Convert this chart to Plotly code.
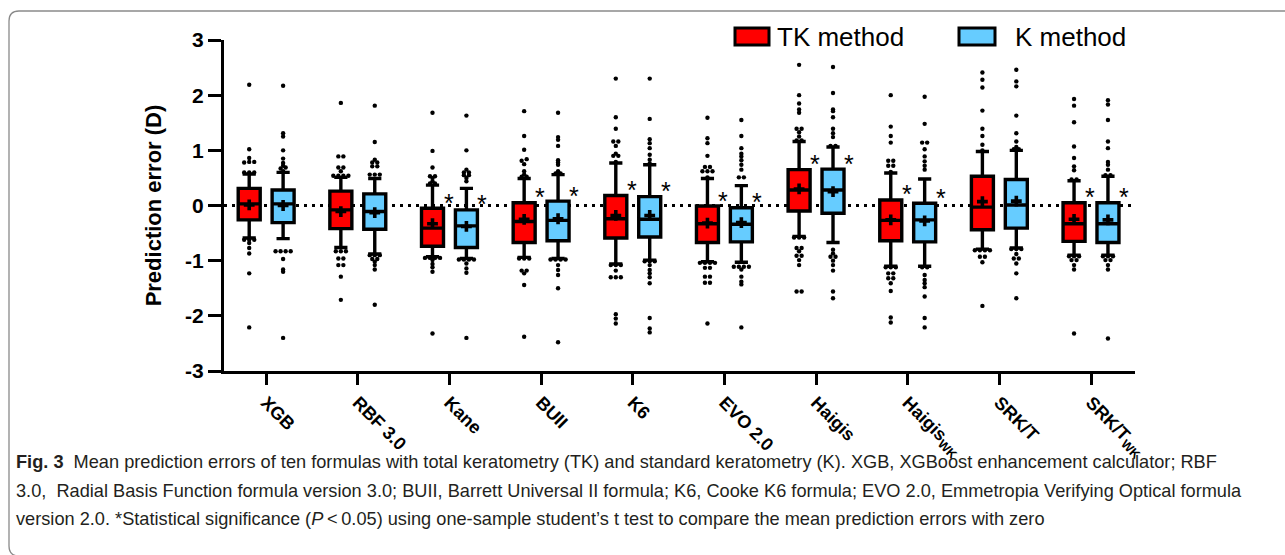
import plotly.graph_objects as go

# ---------------- data ----------------
categories = ["XGB", "RBF 3.0", "Kane", "BUII", "K6", "EVO 2.0", "Haigis",
              "Haigis<sub>WK</sub>", "SRK/T", "SRK/T<sub>WK</sub>"]

tk_q1 = [-0.26, -0.42, -0.74, -0.67, -0.59, -0.67, -0.10, -0.64, -0.44, -0.65]
tk_median = [0.03, -0.08, -0.41, -0.29, -0.24, -0.33, 0.28, -0.27, -0.03, -0.33]
tk_q3 = [0.31, 0.26, -0.05, 0.05, 0.18, -0.01, 0.65, 0.10, 0.53, 0.05]
tk_low = [-0.59, -0.76, -0.93, -0.94, -1.06, -1.02, -0.56, -1.10, -0.79, -0.90]
tk_high = [0.57, 0.51, 0.37, 0.49, 0.77, 0.49, 1.16, 0.59, 0.98, 0.45]
tk_mean = [0.01, -0.11, -0.33, -0.25, -0.18, -0.32, 0.30, -0.26, 0.07, -0.25]

k_q1 = [-0.31, -0.43, -0.76, -0.64, -0.57, -0.66, -0.14, -0.66, -0.41, -0.67]
k_median = [0.03, -0.11, -0.37, -0.27, -0.25, -0.34, 0.28, -0.26, 0.01, -0.33]
k_q3 = [0.28, 0.21, -0.08, 0.08, 0.16, -0.04, 0.66, 0.04, 0.47, 0.05]
k_low = [-0.60, -0.88, -0.96, -0.96, -0.99, -1.03, -0.67, -1.10, -0.77, -0.90]
k_high = [0.60, 0.49, 0.31, 0.56, 0.74, 0.36, 1.06, 0.48, 1.00, 0.53]
k_mean = [0.00, -0.13, -0.38, -0.24, -0.18, -0.31, 0.25, -0.28, 0.08, -0.26]

tk_points = [
    [2.19, 1.02, 0.86, 0.79, 0.79, 0.78, 0.60, 0.60, 0.60, -0.62, -0.62, -0.62, -0.68, -0.77, -0.87, -1.23, -2.21],
    [1.86, 0.89, 0.89, 0.69, 0.69, 0.62, 0.54, 0.54, 0.54, 0.54, -0.83, -0.83, -0.83, -0.96, -0.96, -1.08, -1.08, -1.29, -1.71],
    [1.68, 0.99, 0.69, 0.53, 0.53, 0.50, 0.44, 0.40, 0.40, -0.95, -0.95, -0.95, -0.95, -0.99, -1.06, -1.12, -1.20, -2.32],
    [1.71, 1.26, 1.01, 0.84, 0.81, 0.75, 0.62, 0.56, 0.52, 0.52, -0.96, -0.96, -0.96, -1.18, -1.18, -1.23, -1.44, -2.38],
    [2.30, 1.60, 1.39, 1.16, 1.16, 1.08, 0.94, 0.90, 0.90, 0.79, -1.08, -1.08, -1.08, -1.18, -1.30, -1.30, -1.30, -1.97, -2.05, -2.14],
    [1.59, 1.22, 1.13, 0.90, 0.70, 0.70, 0.62, 0.62, 0.62, 0.51, -1.04, -1.04, -1.04, -1.04, -1.13, -1.13, -1.29, -1.29, -1.40, -1.40, -2.14],
    [2.55, 2.00, 1.85, 1.74, 1.68, 1.39, 1.39, 1.33, 1.25, 1.18, 1.18, -0.58, -0.58, -0.58, -0.77, -0.77, -0.83, -0.91, -0.91, -0.99, -1.08, -1.56, -1.56],
    [2.00, 1.43, 1.26, 1.14, 0.81, 0.81, 0.72, 0.72, 0.61, -1.12, -1.12, -1.12, -1.23, -1.23, -1.32, -1.32, -1.41, -1.55, -2.03, -2.12],
    [2.41, 2.28, 2.14, 1.72, 1.39, 1.26, 1.10, 1.00, -0.81, -0.81, -0.81, -0.81, -0.93, -0.93, -1.03, -1.82],
    [1.93, 1.81, 1.51, 1.07, 0.86, 0.71, 0.64, 0.47, 0.47, -0.92, -0.92, -0.92, -0.99, -0.99, -1.08, -1.16, -2.32],
]
k_points = [
    [2.17, 1.31, 1.25, 1.00, 0.85, 0.77, 0.72, 0.69, 0.67, 0.62, -0.83, -0.83, -0.83, -0.83, -0.97, -1.16, -1.20, -2.40],
    [1.81, 1.15, 0.83, 0.78, 0.78, 0.71, 0.71, 0.56, 0.56, 0.56, -0.90, -0.90, -0.90, -0.97, -0.97, -1.02, -1.08, -1.16, -1.80],
    [1.63, 1.00, 0.65, 0.60, 0.60, 0.55, 0.55, 0.50, 0.44, -0.98, -0.98, -0.98, -0.98, -1.05, -1.14, -1.22, -2.40],
    [1.68, 1.24, 1.19, 1.08, 0.82, 0.78, 0.74, 0.62, 0.58, 0.58, -0.98, -0.98, -0.98, -0.98, -1.08, -1.17, -1.26, -1.50, -2.48],
    [2.30, 1.57, 1.20, 1.13, 1.04, 0.92, 0.83, 0.76, -1.01, -1.01, -1.01, -1.08, -1.17, -1.23, -1.30, -1.41, -2.04, -2.23, -2.30],
    [1.55, 1.26, 1.04, 0.94, 0.89, 0.82, 0.74, 0.65, 0.51, 0.51, -1.11, -1.11, -1.11, -1.11, -1.16, -1.29, -1.38, -1.43, -2.21],
    [2.51, 2.04, 1.74, 1.71, 1.60, 1.39, 1.31, 1.24, 1.08, 1.08, -0.80, -0.87, -0.93, -0.93, -1.00, -1.08, -1.18, -1.56, -1.68],
    [1.97, 1.48, 1.14, 1.14, 1.02, 0.89, 0.80, 0.72, 0.65, -1.12, -1.12, -1.26, -1.35, -1.41, -1.48, -1.65, -2.04, -2.21],
    [2.46, 2.25, 2.16, 1.63, 1.31, 1.16, 1.06, 1.02, 1.02, -0.79, -0.79, -0.79, -0.88, -0.96, -0.96, -1.05, -1.23, -1.68],
    [1.91, 1.83, 1.55, 1.16, 1.04, 0.79, 0.74, 0.65, 0.55, 0.55, -0.92, -0.92, -0.92, -0.99, -0.99, -1.08, -1.16, -2.41],
]

significant = [False, False, True, True, True, True, True, True, False, True]

y_ticks = [3, 2, 1, 0, -1, -2, -3]
y_ticktext = ["3", "2", "1", "0", "-1", "-2", "-3"]

caption_lines = [
    "<b>Fig. 3</b>  Mean prediction errors of ten formulas with total keratometry (TK) and standard keratometry (K). XGB, XGBoost enhancement calculator; RBF",
    "3.0,  Radial Basis Function formula version 3.0; BUII, Barrett Universal II formula; K6, Cooke K6 formula; EVO 2.0, Emmetropia Verifying Optical formula",
    "version 2.0. *Statistical significance (<i>P</i>\u2009<\u20090.05) using one-sample student\u2019s t test to compare the mean prediction errors with zero",
]

# ---------------- styles ----------------
RED = "#FF0000"
BLUE = "#66CCFF"
FONT = "Arial, Liberation Sans, sans-serif"
OFFSET = 0.185
BOX_W = 0.24

W, H = 1285, 555
L, R, T, B = 224, 150, 40, 184
PW, PH = W - L - R, H - T - B


def px_x(px):
    return (px - L) / PW


def px_y(py):
    return (H - B - py) / PH


def spread(vals, center, step=0.055, tol=0.03):
    vals = sorted(vals)
    xs, ys = [], []
    groups = []
    for v in vals:
        if groups and abs(v - groups[-1][-1]) <= tol:
            groups[-1].append(v)
        else:
            groups.append([v])
    for g in groups:
        n = len(g)
        for k, v in enumerate(g):
            xs.append(center + (k - (n - 1) / 2) * step)
            ys.append(v)
    return xs, ys


fig = go.Figure()
idx = list(range(len(categories)))

series = [
    ("TK method", RED, -OFFSET, tk_q1, tk_median, tk_q3, tk_low, tk_high, tk_mean, tk_points),
    ("K method", BLUE, OFFSET, k_q1, k_median, k_q3, k_low, k_high, k_mean, k_points),
]

for name, color, off, q1, med, q3, lo, hi, mean, pts in series:
    xpos = [i + off for i in idx]
    fig.add_trace(go.Box(
        name=name, x=xpos, q1=q1, median=med, q3=q3,
        lowerfence=lo, upperfence=hi, width=BOX_W, whiskerwidth=0.6,
        fillcolor=color, line=dict(color="black", width=3.4),
        boxpoints=False, showlegend=False, hoverinfo="skip",
    ))
    dx, dy = [], []
    for i, p in zip(idx, pts):
        sx, sy = spread(p, i + off)
        dx += sx
        dy += sy
    fig.add_trace(go.Scatter(
        x=dx, y=dy, mode="markers", showlegend=False,
        marker=dict(color="black", size=4.4), hoverinfo="skip",
    ))
    fig.add_trace(go.Scatter(
        x=xpos, y=mean, mode="markers", showlegend=False,
        marker=dict(color="black", size=9, symbol="cross"), hoverinfo="skip",
    ))
    for i, s in zip(idx, significant):
        if s:
            fig.add_annotation(
                x=i + off + BOX_W / 2, y=q3[i] + 0.1, text="*",
                showarrow=False, xanchor="left", yanchor="middle",
                xshift=-2, font=dict(family=FONT, size=25, color="black"),
            )

# zero reference line
fig.add_shape(type="line", xref="paper", yref="y", x0=0, x1=1, y0=0, y1=0,
              line=dict(color="black", width=3, dash="3px,5px"), layer="below")

# legend (drawn manually to match the large swatches)
legend_items = [("TK method", RED, 735, 769, 775), ("K method", BLUE, 959, 995, 1013)]
for label, color, x0, x1, tx in legend_items:
    fig.add_shape(type="rect", xref="paper", yref="paper",
                  x0=px_x(x0), x1=px_x(x1), y0=px_y(45), y1=px_y(28),
                  fillcolor=color, line=dict(color="black", width=3))
    fig.add_annotation(xref="paper", yref="paper", x=px_x(tx), y=px_y(37),
                       text=label, showarrow=False, xanchor="left", yanchor="middle",
                       font=dict(family=FONT, size=26, color="black"))

# caption
for k, line in enumerate(caption_lines):
    fig.add_annotation(xref="paper", yref="paper", x=px_x(14), y=px_y(462 + 28.5 * k),
                       text=line, showarrow=False, xanchor="left", yanchor="middle",
                       font=dict(family=FONT, size=18.2, color="#231f20"))

# rounded outer frame
fx0, fy0, fy1, rr = 9, 11, 556, 10
frame = (f"M {px_x(1300)},{px_y(fy0)} L {px_x(fx0 + rr)},{px_y(fy0)} "
         f"Q {px_x(fx0)},{px_y(fy0)} {px_x(fx0)},{px_y(fy0 + rr)} "
         f"L {px_x(fx0)},{px_y(fy1 - rr)} Q {px_x(fx0)},{px_y(fy1)} {px_x(fx0 + rr)},{px_y(fy1)} "
         f"L {px_x(1300)},{px_y(fy1)}")
fig.add_shape(type="path", xref="paper", yref="paper", path=frame,
              line=dict(color="#8a8a8a", width=1.3))

fig.update_layout(
    width=W, height=H,
    margin=dict(l=L, r=R, t=T, b=B),
    plot_bgcolor="white", paper_bgcolor="white",
    boxmode="overlay",
    showlegend=False,
    font=dict(family=FONT, color="black"),
)
fig.update_xaxes(
    range=[-0.46, 9.48], tickmode="array", tickvals=idx, ticktext=categories,
    tickangle=45, showgrid=False, zeroline=False,
    showline=True, linecolor="black", linewidth=3,
    ticks="outside", ticklen=11, tickwidth=3, tickcolor="black",
    tickfont=dict(family=FONT, size=18, color="black", weight="bold"),
)
fig.update_yaxes(
    range=[-3, 3], tickmode="array", tickvals=y_ticks, ticktext=y_ticktext,
    showgrid=False, zeroline=False,
    showline=True, linecolor="black", linewidth=3,
    ticks="outside", ticklen=13, tickwidth=3, tickcolor="black",
    tickfont=dict(family=FONT, size=21, color="black", weight="bold"),
    title=dict(text="Prediction error (D)", standoff=18,
               font=dict(family=FONT, size=22, color="black", weight="bold")),
)

fig.write_html("out.html")
